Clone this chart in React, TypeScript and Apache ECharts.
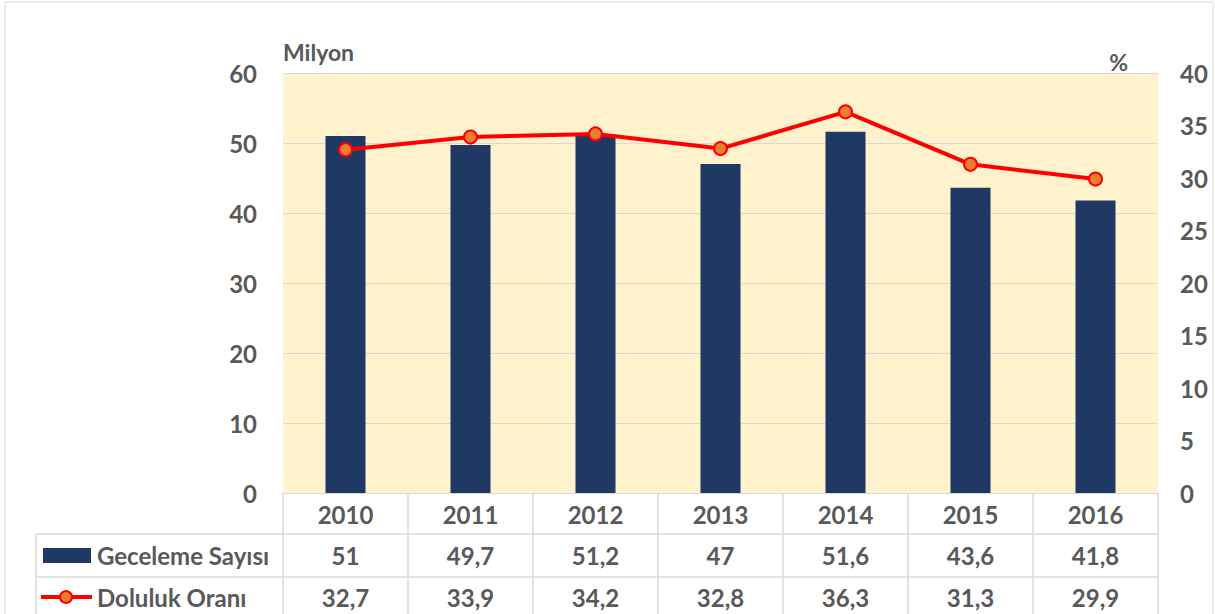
import React, { useEffect, useRef } from "react";
import * as echarts from "echarts";

const categories = ["2010", "2011", "2012", "2013", "2014", "2015", "2016"];
const geceleme = [51, 49.7, 51.2, 47, 51.6, 43.6, 41.8];
const doluluk = [32.7, 33.9, 34.2, 32.8, 36.3, 31.3, 29.9];
const seriesNames = ["Geceleme Sayısı", "Doluluk Oranı"];

const FONT = "Lato, 'Liberation Sans', sans-serif";
const TXT = "#595959";
const GRIDC = "#d9d9d9";
const FS = 24;

const fmt = (v: number) => String(v).replace(".", ",");

export default function App() {
  const ref = useRef<HTMLDivElement>(null);
  useEffect(() => {
    const chart = echarts.init(ref.current!, null, { renderer: "svg" });
    const L = 283, R = 1158, T = 73, B = 493;
    chart.setOption({
      animation: false,
      backgroundColor: "#ffffff",
      grid: {
        left: L, right: 1215 - R, top: T, bottom: 614 - B,
        show: true, backgroundColor: "#FFF2CC", borderWidth: 0,
      },
      xAxis: {
        type: "category",
        data: categories,
        axisLine: { lineStyle: { color: GRIDC, width: 1 } },
        axisTick: { show: false },
        axisLabel: { color: TXT, fontSize: FS, fontWeight: "bold", fontFamily: FONT, margin: 9 },
      },
      yAxis: [
        {
          type: "value", min: 0, max: 60, interval: 10,
          name: "Milyon", nameLocation: "end", nameGap: 10,
          nameTextStyle: { color: TXT, fontSize: 23, fontWeight: "bold", fontFamily: FONT, align: "left" },
          axisLine: { show: false }, axisTick: { show: false },
          axisLabel: { color: TXT, fontSize: FS, fontWeight: "bold", fontFamily: FONT, margin: 26 },
          splitLine: { lineStyle: { color: GRIDC, width: 1 } },
        },
        {
          type: "value", min: 0, max: 40, interval: 5,
          name: "%", nameLocation: "end", nameGap: 0,
          nameTextStyle: { color: TXT, fontSize: 23, fontWeight: "bold", fontFamily: FONT, align: "right", padding: [0, 30, 0, 0] },
          axisLine: { show: false }, axisTick: { show: false },
          axisLabel: { color: TXT, fontSize: FS, fontWeight: "bold", fontFamily: FONT, margin: 22 },
          splitLine: { show: false },
        },
      ],
      series: [
        {
          name: seriesNames[0], type: "bar", data: geceleme, yAxisIndex: 0,
          barWidth: 40, itemStyle: { color: "#1F3864" },
        },
        {
          name: seriesNames[1], type: "line", data: doluluk, yAxisIndex: 1,
          lineStyle: { color: "#FF0000", width: 4 },
          symbol: "circle", symbolSize: 13,
          itemStyle: { color: "#ED7D31", borderColor: "#FF0000", borderWidth: 2 },
        },
      ],
    });

    const rowTop = [B, 534, 577, 620];
    const cellW = (R - L) / categories.length;
    const g: any[] = [];
    g.push({ type: "rect", shape: { x: 5, y: 2, width: 1208, height: 640 }, style: { fill: "none", stroke: GRIDC, lineWidth: 1 }, silent: true });
    g.push({ type: "line", shape: { x1: 36, y1: rowTop[1], x2: R, y2: rowTop[1] }, style: { stroke: GRIDC, lineWidth: 1.5 } });
    g.push({ type: "line", shape: { x1: 36, y1: rowTop[2], x2: R, y2: rowTop[2] }, style: { stroke: GRIDC, lineWidth: 1.5 } });
    g.push({ type: "line", shape: { x1: 36, y1: rowTop[1], x2: 36, y2: 620 }, style: { stroke: GRIDC, lineWidth: 1.5 } });
    for (let i = 0; i <= categories.length; i++) {
      const x = L + i * cellW;
      g.push({ type: "line", shape: { x1: x, y1: B, x2: x, y2: 620 }, style: { stroke: GRIDC, lineWidth: 1.5 } });
    }
    g.push({ type: "rect", shape: { x: 43, y: 548, width: 48, height: 15 }, style: { fill: "#1F3864" } });
    g.push({ type: "line", shape: { x1: 41, y1: 597, x2: 92, y2: 597 }, style: { stroke: "#FF0000", lineWidth: 4 } });
    g.push({ type: "circle", shape: { cx: 66, cy: 597, r: 6 }, style: { fill: "#ED7D31", stroke: "#FF0000", lineWidth: 2 } });
    const rowData = [geceleme, doluluk];
    const centers = [555, 597];
    rowData.forEach((arr, r) => {
      const cy = centers[r];
      g.push({
        type: "text", x: 97, y: cy,
        style: { text: seriesNames[r], fill: TXT, font: `bold ${FS}px ${FONT}`, textAlign: "left", textVerticalAlign: "middle" },
      });
      arr.forEach((v, i) => {
        const px = chart.convertToPixel({ xAxisIndex: 0 }, categories[i]) as number;
        g.push({
          type: "text", x: px, y: cy,
          style: { text: fmt(v), fill: TXT, font: `bold ${FS}px ${FONT}`, textAlign: "center", textVerticalAlign: "middle" },
        });
      });
    });
    chart.setOption({ graphic: g });
    return () => chart.dispose();
  }, []);
  return <div ref={ref} style={{ width: 1215, height: 614, position: "absolute", left: 0, top: 0 }} />;
}
